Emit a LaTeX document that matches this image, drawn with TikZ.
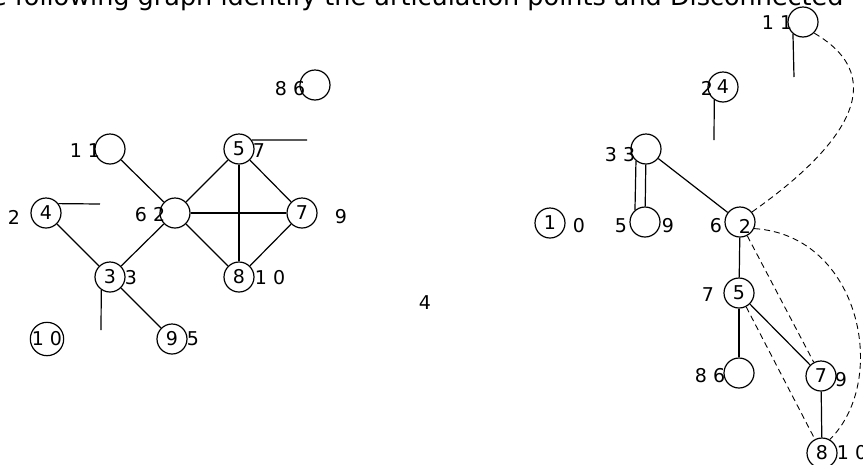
\documentclass[tikz,border=0pt]{standalone}
\usepackage{fontspec}
\setmainfont{DejaVu Sans}
\usetikzlibrary{positioning}

\begin{document}
\begin{tikzpicture}[
  x=1pt,y=-1pt,
  font=\fontsize{19}{22}\selectfont,
  vtx/.style={draw,circle,line width=1.2pt,minimum size=30pt,inner sep=0pt},
  lbl/.style={inner sep=0pt},
  edg/.style={line width=1.2pt},
  dsh/.style={line width=0.9pt,dash pattern=on 6pt off 4pt}
]
\useasboundingbox (0,0) rectangle (863,464);
\node[lbl,anchor=base west,font=\fontsize{25.5}{30}\selectfont] (title) at (-9,5)
  {e following graph identify the articulation points and Disconnected};

% left graph
\node[vtx] (l86) at (315,85) {};
\node[vtx] (l11) at (110,149) {};
\node[vtx] (l5) at (239,149) {5};
\node[vtx] (l4) at (46,213) {4};
\node[vtx] (l2) at (175,213) {};
\node[vtx] (l7) at (302,213) {7};
\node[vtx] (l3) at (110,277) {3};
\node[vtx] (l8) at (239,277) {8};
\node[vtx] (l10) at (47,339) {1 0};
\node[vtx] (l9) at (172,339) {9};
\node[lbl] at (290,89) {8 6};
\node[lbl] at (85,151) {1 1};
\node[lbl] at (259,151) {7};
\node[lbl] at (14,217) {2};
\node[lbl] at (150,215) {6 2};
\node[lbl] at (341,217) {9};
\node[lbl] at (131,278) {3};
\node[lbl] at (270,278) {1 0};
\node[lbl] at (193,339) {5};
\node[lbl] (mid) at (425,303) {4};
\coordinate (l5e) at (307,140);
\coordinate (l4e) at (100,204);
\coordinate (l3e) at (101,330);
\draw[edg] (l11)--(l2); \draw[edg] (l4)--(l3); \draw[edg] (l3)--(l2);
\draw[edg] (l2)--(l5); \draw[edg] (l2)--(l7); \draw[edg] (l2)--(l8);
\draw[edg] (l5)--(l8); \draw[edg] (l5)--(l7); \draw[edg] (l7)--(l8);
\draw[edg] (l3)--(l9);
\draw[edg] (l5.35)--(l5e); \draw[edg] (l4.37)--(l4e); \draw[edg] (l3.-124)--(l3e);

% right graph
\node[vtx] (r11) at (803,22) {};
\node[vtx] (r4) at (723,87) {4};
\node[vtx] (r33) at (646,149) {};
\node[vtx] (r59) at (645,222) {};
\node[vtx] (r1) at (550,223) {1};
\node[vtx] (r62) at (740,222) {};
\node[vtx] (r5) at (739,293) {5};
\node[vtx] (r6) at (739,373) {};
\node[vtx] (r7) at (821,376) {7};
\node[vtx] (r8) at (822,453) {8};
\node[lbl] at (777,23) {1 1};
\node[lbl] at (707,88) {2};
\node[lbl] at (620,155) {3 3};
\node[lbl] at (621,226) {5};
\node[lbl] at (668,226) {9};
\node[lbl] at (579,226) {0};
\node[lbl] at (716,226) {6};
\node[lbl] at (745,226) {2};
\node[lbl] at (708,295) {7};
\node[lbl] at (710,376) {8 6};
\node[lbl] at (841,380) {9};
\node[lbl] at (852,453) {1 0};
\coordinate (r11e) at (794,77);
\coordinate (r4e) at (714,140);
\draw[edg] (r11.-130)--(r11e); \draw[edg] (r4.-124)--(r4e);
\draw[edg] (r33)--(r59); \draw[edg] (r33.-130)--(r59.130);
\draw[edg] (r33)--(r62); \draw[edg] (r62)--(r5); \draw[edg] (r5)--(r6);
\draw[edg] (r5)--(r7); \draw[edg] (r7)--(r8);
\draw[dsh] (r62)--(r7); \draw[dsh] (r5)--(r8);
\draw[dsh] (r62.40) .. controls (840,150) and (895,80) .. (r11.-45);
\draw[dsh] (r62.-25) .. controls (860,235) and (890,380) .. (r8.60);
\end{tikzpicture}
\end{document}
